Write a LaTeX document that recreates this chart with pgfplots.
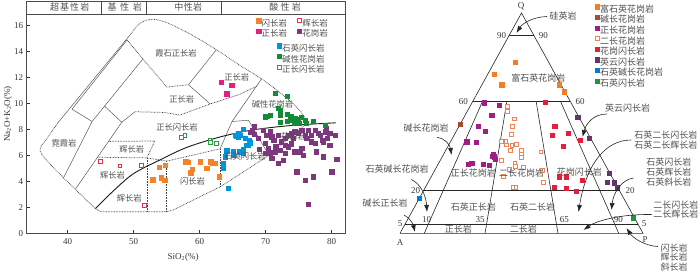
\documentclass[border=0pt]{standalone}
\usepackage{fontspec}
\setmainfont{Liberation Serif}
\newfontfamily\zh{Noto Sans CJK SC}
\usepackage{pgfplots}
\pgfplotsset{compat=1.18}
\usetikzlibrary{arrows.meta}

\definecolor{txt}{RGB}{55,55,55}
\definecolor{ztxt}{RGB}{80,80,80}
\definecolor{cDio}{RGB}{243,130,40}
\definecolor{cGab}{RGB}{232,50,70}
\definecolor{cSye}{RGB}{230,30,130}
\definecolor{cGra}{RGB}{125,55,125}
\definecolor{cQd}{RGB}{0,150,220}
\definecolor{cAg}{RGB}{20,140,55}
\definecolor{cSd}{RGB}{40,160,70}
\definecolor{tQr}{RGB}{243,125,35}
\definecolor{tAf}{RGB}{160,80,50}
\definecolor{tSg}{RGB}{160,30,130}
\definecolor{tMg}{RGB}{240,130,90}
\definecolor{tGd}{RGB}{230,30,60}
\definecolor{tTo}{RGB}{95,55,105}
\definecolor{tQa}{RGB}{0,125,200}
\definecolor{tQd}{RGB}{30,150,60}

\pgfplotsset{
  sq/.style={only marks, mark=square*, mark size=2.1pt, mark options={draw=#1, fill=#1, line width=0.3pt, solid}},
  osq/.style={only marks, mark=square*, mark size=1.9pt, mark options={draw=#1, fill=white, line width=0.75pt, solid}},
  fld/.style={black!70, line width=0.45pt, forget plot},
  fdot/.style={black!75, line width=0.75pt, dash pattern=on 0.7pt off 0.9pt, forget plot},
  tline/.style={black!85, line width=0.6pt, forget plot},
}

\begin{document}
\begin{tikzpicture}
\path[use as bounding box] (0,0) rectangle (700pt,271pt);

%================ TAS =================
\begin{axis}[
  at={(26.7pt,37.7pt)}, anchor=south west, scale only axis,
  width=318.3pt, height=232.3pt,
  xmin=33.79, xmax=82.02, ymin=0, ymax=17.87,
  xtick={40,50,60,70,80}, ytick={0,2,4,6,8,10,12,14,16},
  xtick pos=left, ytick pos=left, tick align=inside,
  major tick length=3.5pt,
  axis line style={draw=black!70, line width=0.6pt},
  tick style={black!80, line width=0.6pt},
  ticklabel style={font=\fontsize{9}{9}\selectfont, text=txt},
  xticklabel style={yshift=-1.5pt},
  /pgf/number format/assume math mode=true,
  clip=false,
  legend columns=2,
  legend cell align=left,
  legend style={draw=none, fill=none, at={(0.712,0.935)}, anchor=north west,
    font=\zh\fontsize{8.5}{8.5}\selectfont, text=ztxt,
    nodes={inner sep=1pt, text height=7pt, text depth=1.5pt},
    /tikz/every even column/.append style={column sep=9pt}},
  legend image code/.code={\draw[#1] plot coordinates {(2.2pt,3pt)};},
]
% field boundaries
\addplot[fdot] coordinates {(76.3,8.5)(70.5,6.0)(63.2,3.6)(56,1.8)(55,1.66)(45,1.66)(44.2,1.9)(39.4,4.25)(37,5.5)(36.1,6.05)(35.8,6.4)(36,6.75)(36.5,7.05)(38.6,8.55)};
\addplot[fdot, smooth, tension=0.55] coordinates {(49.6,15.35)(50.5,15.95)(51.7,16.35)(53.3,16.45)(55.5,16.1)(59,15.2)(62.6,14.1)(66,12.95)(69.3,11.9)(72.5,10.7)(74.8,9.65)(75.9,8.95)(76.3,8.5)};
\addplot[fld] coordinates {(38.6,8.55)(49.6,15.35)};
\addplot[fld] coordinates {(39.35,4.25)(43.7,8.6)};
\addplot[fld] coordinates {(43.7,8.6)(40.65,9.55)(49.0,14.87)};
\addplot[fld] coordinates {(43.7,8.6)(51.41,13.42)};
\addplot[fld] coordinates {(41.16,3.39)(48.2,8.54)};
\addplot[fld] coordinates {(48.2,8.54)(45.55,9.8)};
\addplot[fld] coordinates {(48.2,8.54)(50.2,9.35)};
\addplot[fdot] coordinates {(49.0,14.87)(55,11.25)(58.3,11.43)};
\addplot[fld] coordinates {(58.3,11.43)(62.5,14.1)};
\addplot[fld] coordinates {(58.3,11.43)(61.6,9.95)};
\addplot[fld] coordinates {(69.4,11.9)(64.9,8.6)(63.1,6.5)};
\addplot[fld] coordinates {(64.9,8.6)(67.4,8.7)(70.5,6.0)};
\addplot[fdot] coordinates {(50.2,9.35)(54.5,9.3)(57,9.1)(61.6,9.95)(66.1,10.7)(68.6,11.3)};
\addplot[fdot] coordinates {(44.5,5.85)(52,5.8)(55,5.55)(63.1,6.5)};
\addplot[fdot] coordinates {(46.2,7.07)(53.2,7.1)(52,5.8)};
\addplot[fdot] coordinates {(52,1.66)(52,5.8)};
\addplot[fdot] coordinates {(55,1.66)(55,5.55)};
\addplot[fdot] coordinates {(63.1,3.6)(63.1,6.5)};
\addplot[black!90, line width=0.9pt, smooth, forget plot] coordinates {(44.2,1.9)(47,3.3)(50,4.6)(54,5.65)(58,6.6)(63,7.4)(68,7.95)(74,8.3)(80.6,8.5)};

% data with legend
\addplot[sq=cDio] table[row sep=\\]{x y\\
52.86 4.12\\ 53.88 5.08\\ 54.18 4.28\\ 54.7 4.1\\ 54.74 5.25\\ 57.88 5.51\\ 58.3 5.45\\ 58.64 4.66\\ 58.8 4.92\\ 60.05 5.51\\ 61.06 5.0\\ 61.67 5.51\\ 61.9 5.38\\ 62.4 5.38\\ 62.9 4.36\\};
\addlegendentry{闪长岩}
\addplot[osq=cGab] table[row sep=\\]{x y\\
44.9 5.56\\ 47.9 5.18\\ 51.2 5.2\\ 51.56 2.15\\};
\addlegendentry{辉长岩}
\addplot[sq=cSye] table[row sep=\\]{x y\\
63.23 11.64\\ 64.85 11.41\\ 64.09 10.74\\};
\addlegendentry{正长岩}
\addplot[sq=cGra] table[row sep=\\]{x y\\
67.9 7.95\\ 68.9 7.30\\ 69.6 7.95\\ 70.15 7.56\\ 70.65 7.82\\ 70.9 7.43\\ 69.9 6.92\\ 70.4 6.54\\ 71.2 7.18\\ 71.9 7.56\\
72.4 7.05\\ 72.9 7.31\\ 73.4 7.56\\ 73.9 7.69\\ 74.4 7.82\\ 74.95 7.69\\ 75.45 7.95\\ 75.95 7.56\\ 76.45 7.95\\ 76.95 7.56\\
77.45 7.95\\ 78.2 7.56\\ 79.0 7.82\\ 79.7 7.69\\ 80.5 7.56\\ 79.2 8.07\\ 78.5 7.18\\ 76.95 7.05\\ 77.45 6.92\\ 78.7 7.05\\
79.7 6.79\\ 72.9 6.79\\ 73.4 6.66\\ 72.2 6.41\\ 71.4 6.28\\ 72.9 6.15\\ 74.4 6.28\\ 75.2 6.28\\ 75.7 6.02\\ 75.45 6.54\\
69.9 6.15\\ 70.9 5.77\\ 71.9 5.38\\ 72.7 5.64\\ 77.7 6.28\\ 78.7 5.9\\ 74.7 4.74\\ 75.95 4.1\\ 77.2 4.36\\ 80.0 4.74\\
80.75 5.69\\ 76.45 2.25\\ 68.3 7.6\\ 69.0 6.5\\ 71.5 6.7\\ 70.6 6.2\\ 73.9 6.9\\ 74.2 7.3\\ 76.2 7.3\\ 77.9 7.7\\
79.3 7.3\\ 67.6 7.8\\ 68.2 8.2\\};
\addlegendentry{花岗岩}
% data without legend here
\addplot[sq=cQd, forget plot] table[row sep=\\]{x y\\
66.6 8.0\\ 66.1 7.56\\ 65.5 7.48\\ 65.8 7.44\\ 67.5 7.12\\ 67.1 6.8\\ 66.6 6.46\\ 66.0 6.28\\ 65.1 6.28\\ 64.1 6.36\\
63.8 5.9\\ 63.6 5.38\\ 64.3 3.46\\ 63.5 5.0\\ 65.35 7.56\\ 65.85 7.7\\ 66.9 7.3\\ 67.4 6.8\\ 67.6 6.97\\ 66.4 6.3\\
66.6 6.15\\ 65.1 6.0\\};
\addplot[sq=cAg, forget plot] table[row sep=\\]{x y\\
71.4 10.77\\ 73.2 10.56\\ 71.9 9.6\\ 72.2 9.43\\ 70.2 9.02\\ 70.65 9.1\\ 69.9 8.97\\ 72.2 9.1\\ 73.2 9.18\\ 73.9 8.97\\
74.4 8.85\\ 74.9 8.77\\ 75.4 8.92\\ 75.95 8.72\\ 76.1 8.46\\ 77.2 8.64\\ 79.0 8.33\\ 72.2 8.58\\ 73.2 8.64\\ 74.4 8.51\\
75.0 8.45\\ 73.7 8.75\\};
\addplot[osq=cSd, forget plot] table[row sep=\\]{x y\\
57.27 7.38\\ 57.77 7.51\\ 61.56 7.18\\ 61.67 7.0\\ 62.47 6.92\\};
\end{axis}

% second legend of TAS
\begin{axis}[
  at={(26.7pt,37.7pt)}, anchor=south west, scale only axis,
  width=318.3pt, height=232.3pt, xmin=0, xmax=1, ymin=0, ymax=1, hide axis,
  legend cell align=left,
  legend style={draw=none, fill=none, at={(0.776,0.827)}, anchor=north west,
    font=\zh\fontsize{8.5}{8.5}\selectfont, text=ztxt,
    nodes={inner sep=1pt, text height=7pt, text depth=1.7pt}},
  legend image code/.code={\draw[#1] plot coordinates {(2.2pt,3pt)};},
]
\addlegendimage{sq=cQd}
\addlegendentry{石英闪长岩}
\addlegendimage{sq=cAg}
\addlegendentry{碱性花岗岩}
\addlegendimage{osq=cSd}
\addlegendentry{正长闪长岩}
\end{axis}

%================ QAP =================
\begin{axis}[
  at={(400pt,37.7pt)}, anchor=south west, scale only axis,
  width=243pt, height=220.3pt, xmin=0, xmax=100, ymin=0, ymax=100,
  hide axis, clip=false,
  legend cell align=left,
  legend style={draw=none, fill=none, at={(0.789,1.0495)}, anchor=north west,
    font=\zh\fontsize{9}{9}\selectfont, text=ztxt,
    nodes={inner sep=1pt, text height=7pt, text depth=1.6pt}},
  legend image code/.code={\draw[#1] plot coordinates {(2pt,3pt)};},
]
\addplot[tline] coordinates {(0,0)(100,0)(50,100)(0,0)};
\addplot[tline] coordinates {(45,90)(55,90)};
\addplot[tline] coordinates {(30,60)(70,60)};
\addplot[tline] coordinates {(9.65,19.3)(90.35,19.3)};
\addplot[tline] coordinates {(2.15,4.3)(97.85,4.3)};
\addplot[tline] coordinates {(10,0)(34,60)};
\addplot[tline] coordinates {(35,0)(44,60)};
\addplot[tline] coordinates {(65,0)(56,60)};
\addplot[tline] coordinates {(90,0)(66,60)};

\addplot[sq=tQr] table[row sep=\\]{x y\\ 47.3 77.6\\ 38.8 72.3\\ 41.85 67.45\\ 65.6 67.45\\ 67.5 64.3\\};
\addlegendentry{富石英花岗岩}
\addplot[sq=tAf] table[row sep=\\]{x y\\ 24.7 49.5\\};
\addlegendentry{碱长花岗岩}
\addplot[sq=tSg] table[row sep=\\]{x y\\
34.7 59.3\\ 40.9 58.2\\ 37.7 53.7\\ 32.2 48.7\\ 35.0 46.4\\ 27.4 41.6\\ 31.3 41.3\\ 28.1 31.3\\ 29.5 31.8\\ 34.3 31.5\\
36.6 31.0\\ 38.4 36.0\\ 38.8 34.8\\ 39.2 33.6\\ 38.0 35.1\\};
\addlegendentry{正长花岗岩}
\addplot[osq=tMg] table[row sep=\\]{x y\\
44.2 57.5\\ 44.3 55.2\\ 47.0 51.9\\ 46.2 48.4\\ 45.8 44.9\\ 41.8 41.6\\ 43.6 41.6\\ 43.9 40.1\\ 46.0 39.8\\ 48.0 40.5\\
49.8 37.5\\ 49.8 36.0\\ 49.8 34.5\\ 45.3 37.5\\ 41.8 33.0\\ 47.3 31.8\\ 47.6 30.2\\ 50.7 30.0\\ 45.0 29.1\\ 42.5 25.7\\
46.6 20.9\\ 47.7 20.9\\ 58.7 28.7\\ 59.0 23.0\\ 58.0 37.0\\};
\addlegendentry{二长花岗岩}
\addplot[sq=tGd] table[row sep=\\]{x y\\
59.7 59.5\\ 63.6 48.5\\ 62.5 44.6\\ 69.3 45.6\\ 74.1 42.4\\ 67.0 39.5\\ 65.6 25.7\\ 68.3 25.7\\ 74.8 24.2\\ 63.4 20.9\\
68.3 20.4\\ 72.4 19.2\\};
\addlegendentry{花岗闪长岩}
\addplot[sq=tTo] table[row sep=\\]{x y\\ 73.1 52.7\\ 77.9 43.3\\ 86.1 27.3\\ 85.3 23.1\\ 88.1 23.0\\ 89.4 20.9\\};
\addlegendentry{英云闪长岩}
\addplot[sq=tQa] table[row sep=\\]{x y\\ 7.95 15.9\\};
\addlegendentry{石英碱长花岗岩}
\addplot[sq=tQd] table[row sep=\\]{x y\\ 96.0 7.1\\};
\addlegendentry{石英闪长岩}
\end{axis}

%================ annotations (pixel frame) =================
\begin{scope}[x=1pt, y=-1pt, yshift=271pt,
  hdr/.style={font=\zh\fontsize{9}{9}\selectfont, text=ztxt, inner sep=0pt},
  lab/.style={font=\zh\fontsize{8.3}{8.3}\selectfont, text=ztxt, inner sep=0pt},
  tlab/.style={font=\zh\fontsize{9}{9}\selectfont, text=ztxt, inner sep=0pt},
  num/.style={font=\fontsize{9}{9}\selectfont, text=txt, inner sep=0pt},
  arr/.style={-{Latex[length=7pt,width=5pt]}, line width=0.6pt, black!85}]
% header band
\draw[black!70, line width=0.6pt] (26.7,14) -- (345,14);
\foreach \xx in {101.5,146.7,221.5} {\draw[black!70, line width=0.6pt] (\xx,1) -- (\xx,14);}
\node[hdr] at (69.7,7.3) {\addfontfeature{LetterSpace=12}超基性岩};
\node[hdr] at (124.7,7.3) {\addfontfeature{LetterSpace=40}基性岩};
\node[hdr] at (188.3,7.3) {\addfontfeature{LetterSpace=5}中性岩};
\node[hdr] at (285,7.3) {\addfontfeature{LetterSpace=25}酸性岩};
% axis titles
\node[num] at (183,257.7) {SiO\textsubscript{2}(\%)};
\node[num, rotate=90] at (8,114) {Na\textsubscript{2}O+K\textsubscript{2}O(\%)};
% TAS field labels
\node[lab] at (176,53.3) {霞石正长岩};
\node[lab] at (236.7,77.3) {正长岩};
\node[lab] at (181.7,99.3) {正长岩};
\node[lab] at (272.5,104.3) {碱性花岗岩};
\node[lab] at (177,127.3) {正长闪长岩};
\node[lab] at (64,143.3) {霓霞岩};
\node[lab] at (131.7,149.3) {辉长岩};
\node[lab] at (112.5,175) {辉长岩};
\node[lab] at (129.2,198.3) {辉长岩};
\node[lab] at (192.5,181.7) {闪长岩};
\node[lab] at (245,156.7) {石英闪长岩};
\node[lab] at (293.3,136) {花岗岩};
% QAP numbers
\node[num] at (521,6) {Q};
\node[num] at (501.7,36) {90};
\node[num] at (543.3,36) {90};
\node[num] at (463.3,101.7) {60};
\node[num] at (580,101.7) {60};
\node[num] at (415.7,191) {20};
\node[num] at (630,191) {20};
\node[num] at (400,224) {5};
\node[num] at (644,224) {5};
\node[num] at (426.7,219.3) {10};
\node[num] at (480,219.3) {35};
\node[num] at (564.3,219.3) {65};
\node[num] at (618.3,219.3) {90};
\node[num] at (400,243) {A};
\node[num] at (645,240) {P};
% QAP field labels
\node[tlab] at (538.3,78.3) {富石英花岗岩};
\node[tlab] at (473.3,173.3) {正长花岗岩};
\node[tlab] at (521.7,172.7) {二长花岗岩};
\node[tlab] at (579.3,171.7) {花岗闪长岩};
\node[tlab] at (473.3,207.3) {石英正长岩};
\node[tlab] at (532.7,207.3) {石英二长岩};
\node[tlab] at (458.3,229.3) {正长岩};
\node[tlab] at (523.3,229.3) {二长岩};
% outside labels
\node[tlab] at (563,15.7) {硅英岩};
\node[tlab] at (627.5,108.3) {英云闪长岩};
\node[tlab] at (426,128.3) {碱长花岗岩};
\node[tlab] at (397,169.3) {石英碱长花岗岩};
\node[tlab] at (385,202.7) {碱长正长岩};
\node[tlab] at (665.8,135) {石英二长闪长岩};
\node[tlab] at (665.8,145) {石英二长辉长岩};
\node[tlab] at (668.8,162.3) {石英闪长岩};
\node[tlab] at (668.8,172.3) {石英辉长岩};
\node[tlab] at (668.8,181.7) {石英斜长岩};
\node[tlab] at (675.8,205) {二长闪长岩};
\node[tlab] at (675.8,214.5) {二长辉长岩};
\node[tlab] at (674,248.3) {闪长岩};
\node[tlab] at (674,257.3) {辉长岩};
\node[tlab] at (674,266.7) {斜长岩};
% arrows
\draw[arr] (547,16.5) .. controls (532,17) and (522,24) .. (516.5,33);
\draw[arr] (607,114) .. controls (593,114) and (586,124) .. (582.5,137);
\draw[arr] (437,137.5) .. controls (445,138) and (450,145) .. (451.5,155);
\draw[arr] (411,179.5) .. controls (420,183) and (426,195) .. (427,212);
\draw[arr] (404,215) .. controls (410,218) and (413,224) .. (415,232);
\draw[arr] (631,140) .. controls (605,140) and (586,165) .. (578.5,212);
\draw[arr] (633.5,178) .. controls (620,180) and (613,195) .. (611.5,210);
\draw[arr] (651.5,214.5) .. controls (620,214) and (596,221) .. (583.5,230);
\draw[arr] (658,246.5) .. controls (645,246) and (633,238) .. (626.5,228);
\end{scope}
\end{tikzpicture}
\end{document}
